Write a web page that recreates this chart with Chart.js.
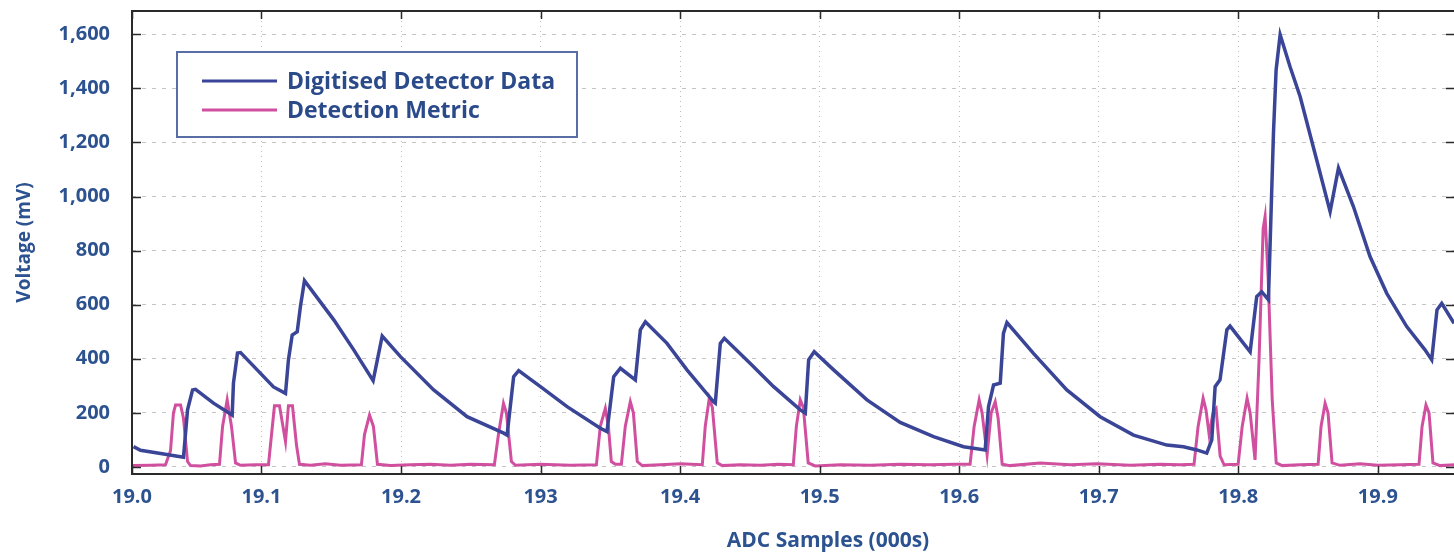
<!DOCTYPE html>
<html>
<head>
<meta charset="utf-8">
<script src="https://cdn.jsdelivr.net/npm/chart.js@4.4.1/dist/chart.umd.min.js"></script>
<style>
html, body { margin: 0; padding: 0; background: #fff; overflow: hidden; }
#wrap { width: 1462px; height: 552px; }
</style>
</head>
<body>
<div id="wrap"><canvas id="chart" width="1462" height="552"></canvas></div>
<script>
// values
const seriesNames = ['Digitised Detector Data', 'Detection Metric'];

const detectorX = [19.0083, 19.0133, 19.0277, 19.0420, 19.0441, 19.0470, 19.0506, 19.0527, 19.0656, 19.0790,
    19.0799, 19.0828, 19.0850, 19.0969, 19.1086, 19.1172, 19.1193, 19.1220, 19.1256, 19.1279,
    19.1308, 19.1518, 19.1661, 19.1800, 19.1865, 19.1996, 19.2234, 19.2473, 19.2736, 19.2760,
    19.2807, 19.2843, 19.2999, 19.3190, 19.3428, 19.3476, 19.3524, 19.3572, 19.3679, 19.3715,
    19.3751, 19.3906, 19.4049, 19.4240, 19.4252, 19.4288, 19.4317, 19.4503, 19.4670, 19.4861,
    19.4897, 19.4921, 19.4961, 19.5100, 19.5339, 19.5577, 19.5816, 19.6031, 19.6186, 19.6210,
    19.6246, 19.6294, 19.6317, 19.6342, 19.6532, 19.6771, 19.7010, 19.7249, 19.7488, 19.7607,
    19.7703, 19.7774, 19.7810, 19.7834, 19.7869, 19.7918, 19.7941, 19.8085, 19.8132, 19.8168,
    19.8216, 19.8252, 19.8271, 19.8300, 19.8371, 19.8443, 19.8562, 19.8658, 19.8718, 19.8825,
    19.8944, 19.9064, 19.9207, 19.9338, 19.9386, 19.9424, 19.9458, 19.9546];
const detectorY = [75, 62, 50, 38, 36, 211, 285, 287, 236, 192,
    310, 421, 423, 359, 296, 272, 396, 488, 500, 593,
    689, 544, 433, 319, 484, 408, 285, 186, 125, 118,
    334, 356, 297, 223, 143, 131, 334, 365, 322, 507,
    537, 457, 359, 241, 236, 457, 476, 383, 297, 211,
    199, 396, 426, 359, 248, 165, 112, 75, 63, 223,
    303, 310, 494, 534, 420, 285, 186, 118, 81, 75,
    63, 51, 100, 297, 322, 507, 521, 426, 630, 648,
    618, 1234, 1468, 1598, 1480, 1370, 1135, 944, 1105, 963,
    778, 642, 519, 433, 396, 581, 605, 531];

const metricX = [19.0076, 19.0205, 19.0312, 19.0348, 19.0369, 19.0384, 19.0420, 19.0441, 19.0470, 19.0491,
    19.0563, 19.0634, 19.0699, 19.0721, 19.0754, 19.0785, 19.0814, 19.0850,
    19.0957, 19.1050, 19.1072, 19.1093, 19.1129, 19.1172, 19.1193, 19.1222, 19.1251, 19.1272,
    19.1351, 19.1458, 19.1566, 19.1716, 19.1738, 19.1774, 19.1802, 19.1831,
    19.1924, 19.2067, 19.2211, 19.2354, 19.2497, 19.2669, 19.2698, 19.2734, 19.2755, 19.2791, 19.2820,
    19.2999, 19.3213, 19.3400, 19.3428, 19.3464, 19.3486, 19.3507, 19.3536,
    19.3579, 19.3607, 19.3643, 19.3665, 19.3693, 19.3729,
    19.3858, 19.4001, 19.4159, 19.4180, 19.4209, 19.4231, 19.4266, 19.4302,
    19.4431, 19.4575, 19.4704, 19.4811, 19.4833, 19.4861, 19.4883, 19.4918, 19.4968,
    19.5148, 19.5362, 19.5577, 19.5792, 19.5971, 19.6078, 19.6107, 19.6143, 19.6164, 19.6200, 19.6229, 19.6258, 19.6279, 19.6308, 19.6365,
    19.6580, 19.6795, 19.6989, 19.7225, 19.7440, 19.7583, 19.7683, 19.7712, 19.7748, 19.7769, 19.7791, 19.7819, 19.7841, 19.7870, 19.7898,
    19.7999, 19.8028, 19.8063, 19.8085, 19.8120, 19.8149, 19.8178, 19.8192, 19.8214, 19.8243, 19.8272, 19.8315,
    19.8443, 19.8572, 19.8593, 19.8622, 19.8643, 19.8672, 19.8729, 19.8872, 19.9000, 19.9158, 19.9295, 19.9317, 19.9345, 19.9367, 19.9395, 19.9446, 19.9553];
const metricY = [5, 6, 8, 60, 200, 229, 229, 180, 20, 5,
    4, 8, 10, 150, 248, 150, 15, 6,
    8, 8, 120, 226, 226, 94, 226, 226, 80, 10,
    6, 12, 6, 8, 120, 192, 150, 10,
    5, 8, 10, 6, 10, 8, 120, 235, 200, 20, 6,
    10, 6, 8, 150, 217, 150, 20, 10,
    10, 150, 241, 200, 20, 5,
    8, 12, 8, 150, 254, 220, 15, 5,
    8, 6, 10, 8, 150, 248, 220, 15, 4,
    8, 6, 10, 8, 10, 10, 150, 248, 200, 44, 200, 241, 180, 10, 5,
    15, 8, 12, 6, 10, 8, 10, 150, 254, 210, 120, 200, 215, 40, 8,
    10, 150, 254, 200, 26, 400, 880, 926, 700, 250, 15, 5,
    8, 10, 150, 235, 200, 15, 6, 12, 6, 8, 10, 150, 229, 200, 15, 5, 8];

const xTicks = [19.0, 19.1, 19.2, 19.3, 19.4, 19.5, 19.6, 19.7, 19.8, 19.9];
const xTickLabels = ['19.0', '19.1', '19.2', '193', '19.4', '19.5', '19.6', '19.7', '19.8', '19.9'];
const yTicks = [0, 200, 400, 600, 800, 1000, 1200, 1400, 1600];

const labelColor = '#2c5290';
const fontFamily = '"Open Sans", "Noto Sans", sans-serif';

function toPoints(xs, ys) {
    return xs.map((x, i) => ({ x: x, y: ys[i] }));
}

// frame round the plot with small inward tick marks
const framePlugin = {
    id: 'frame',
    afterDatasetsDraw(chart) {
        const { ctx, chartArea: a, scales } = chart;
        ctx.save();
        ctx.strokeStyle = '#2a2a2a';
        ctx.lineWidth = 2;
        ctx.strokeRect(a.left, a.top, a.right - a.left, a.bottom - a.top);
        ctx.lineWidth = 1.5;
        ctx.beginPath();
        scales.x.ticks.forEach(t => {
            const px = Math.round(scales.x.getPixelForValue(t.value)) + 0.5;
            ctx.moveTo(px, a.bottom); ctx.lineTo(px, a.bottom - 8);
            ctx.moveTo(px, a.top); ctx.lineTo(px, a.top + 8);
        });
        scales.y.ticks.forEach(t => {
            const py = Math.round(scales.y.getPixelForValue(t.value)) + 0.5;
            ctx.moveTo(a.left, py); ctx.lineTo(a.left + 9, py);
            ctx.moveTo(a.right, py); ctx.lineTo(a.right - 9, py);
        });
        ctx.stroke();
        ctx.restore();
    }
};

// boxed legend inside the plot, top left
const legendBoxPlugin = {
    id: 'legendBox',
    afterDatasetsDraw(chart) {
        const { ctx, chartArea: a } = chart;
        const bx = a.left + 45, by = a.top + 41;
        ctx.save();
        ctx.fillStyle = '#ffffff';
        ctx.fillRect(bx, by, 400, 85);
        ctx.strokeStyle = '#5a6ea6';
        ctx.lineWidth = 2;
        ctx.strokeRect(bx, by, 400, 85);
        chart.data.datasets.forEach((ds, i) => {
            const y = by + 29 + i * 29;
            ctx.strokeStyle = ds.borderColor;
            ctx.lineWidth = 3;
            ctx.beginPath();
            ctx.moveTo(bx + 25, y);
            ctx.lineTo(bx + 100, y);
            ctx.stroke();
            ctx.fillStyle = '#2a4a8a';
            ctx.font = 'bold 23px ' + fontFamily;
            ctx.textBaseline = 'middle';
            ctx.textAlign = 'left';
            ctx.fillText(ds.label, bx + 110, y + 1);
        });
        ctx.restore();
    }
};

// x axis title sits right of centre in the original
const xTitlePlugin = {
    id: 'xTitle',
    afterDraw(chart) {
        const ctx = chart.ctx;
        ctx.save();
        ctx.fillStyle = labelColor;
        ctx.font = 'bold 21px ' + fontFamily;
        ctx.textAlign = 'center';
        ctx.textBaseline = 'middle';
        ctx.fillText('ADC Samples (000s)', 828, 541);
        ctx.restore();
    }
};

new Chart(document.getElementById('chart').getContext('2d'), {
    type: 'line',
    data: {
        datasets: [{
            label: seriesNames[0],
            data: toPoints(detectorX, detectorY),
            borderColor: '#3a4597',
            borderWidth: 3.5,
            pointRadius: 0,
            tension: 0,
            fill: false
        }, {
            label: seriesNames[1],
            data: toPoints(metricX, metricY),
            borderColor: '#d0509f',
            borderWidth: 3,
            pointRadius: 0,
            tension: 0,
            fill: false
        }]
    },
    options: {
        responsive: false,
        animation: false,
        devicePixelRatio: 1,
        layout: { padding: { top: 11, right: 7, left: 0, bottom: 0 } },
        plugins: {
            legend: { display: false },
            tooltip: { enabled: false }
        },
        scales: {
            x: {
                type: 'linear',
                min: 19.0072,
                max: 19.9553,
                afterBuildTicks: s => { s.ticks = xTicks.map(v => ({ value: Math.max(v, s.min) })); },
                afterFit: s => { s.height = 78; s.paddingLeft = 0; s.paddingRight = 0; },
                ticks: {
                    callback: (v, i) => xTickLabels[i],
                    color: labelColor,
                    font: { family: fontFamily, size: 20, weight: 'bold' },
                    padding: 11,
                    maxRotation: 0,
                    autoSkip: false
                },
                grid: { color: '#bdbdbd', lineWidth: 1, drawTicks: false },
                border: { display: false, dash: [1, 4] }
            },
            y: {
                min: -26,
                max: 1686,
                afterBuildTicks: s => { s.ticks = yTicks.map(v => ({ value: v })); },
                afterFit: s => { s.width = 132; s.paddingTop = 0; s.paddingBottom = 0; },
                ticks: {
                    callback: v => v.toLocaleString('en-US'),
                    color: labelColor,
                    font: { family: fontFamily, size: 20, weight: 'bold' },
                    padding: 22
                },
                grid: { color: '#c4c4c4', lineWidth: 1, drawTicks: false },
                border: { display: false, dash: [4, 6] },
                title: {
                    display: true,
                    text: 'Voltage (mV)',
                    color: labelColor,
                    font: { family: fontFamily, size: 19, weight: 'bold' },
                    padding: { top: 13, bottom: 0 }
                }
            }
        }
    },
    plugins: [framePlugin, legendBoxPlugin, xTitlePlugin]
});
</script>
</body>
</html>
